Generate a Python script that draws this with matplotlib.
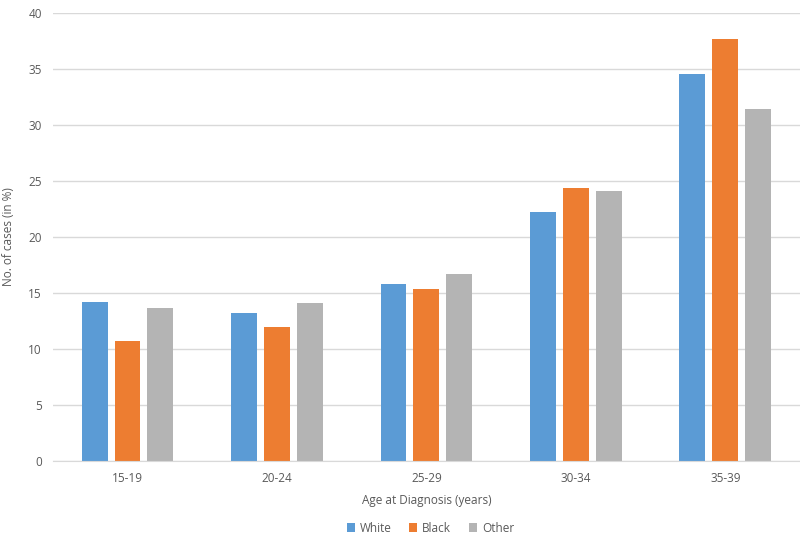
import matplotlib
matplotlib.use("Agg")
import matplotlib.pyplot as plt
import numpy as np

categories = ["15-19", "20-24", "25-29", "30-34", "35-39"]
series_names = ["White", "Black", "Other"]
white = [14.2, 13.2, 15.8, 22.2, 34.6]
black = [10.7, 11.9, 15.3, 24.4, 37.7]
other = [13.6, 14.1, 16.7, 24.1, 31.4]
y_ticks = [0, 5, 10, 15, 20, 25, 30, 35, 40]

colors = ["#5B9BD5", "#ED7D31", "#B4B4B4"]
text_color = "#595959"

plt.rcParams['font.family'] = ['Open Sans', 'DejaVu Sans']

fig = plt.figure(figsize=(8, 5.34), dpi=100)
ax = fig.add_axes([0.066, 0.1376, 0.934, 0.8375])

x = np.arange(len(categories))
width = 0.173
step = 0.22
for i, (vals, name, c) in enumerate(zip([white, black, other], series_names, colors)):
    ax.bar(x + (i - 1) * step, vals, width, color=c, label=name, zorder=3)

ax.set_xlim(-0.5, len(categories) - 0.5)
ax.set_ylim(0, 40)
ax.set_yticks(y_ticks)
ax.set_xticks(x)
ax.set_xticklabels(categories)
ax.tick_params(axis='both', length=0, colors=text_color, labelsize=8.5)
ax.tick_params(axis='y', pad=8)
ax.tick_params(axis='x', pad=8)
ax.grid(axis='y', color='#D9D9D9', linewidth=1, zorder=0)
for s in ['top', 'right', 'left']:
    ax.spines[s].set_visible(False)
ax.spines['bottom'].set_color('#D9D9D9')
ax.spines['bottom'].set_zorder(4)

ax.set_xlabel("Age at Diagnosis (years)", color=text_color, fontsize=8.5, labelpad=7)
fig.text(0.011, 1 - 237 / 534, "No. of cases (in %)", rotation=90, color=text_color,
         fontsize=8.5, ha='center', va='center')

fig.legend(*ax.get_legend_handles_labels(), loc='center', bbox_to_anchor=(0.538, 0.011),
           ncol=3, frameon=False, fontsize=8.5, labelcolor=text_color,
           handlelength=0.7, handleheight=0.7, handletextpad=0.4, columnspacing=1.5,
           borderpad=0, borderaxespad=0)

fig.savefig("out.png", dpi=100)
